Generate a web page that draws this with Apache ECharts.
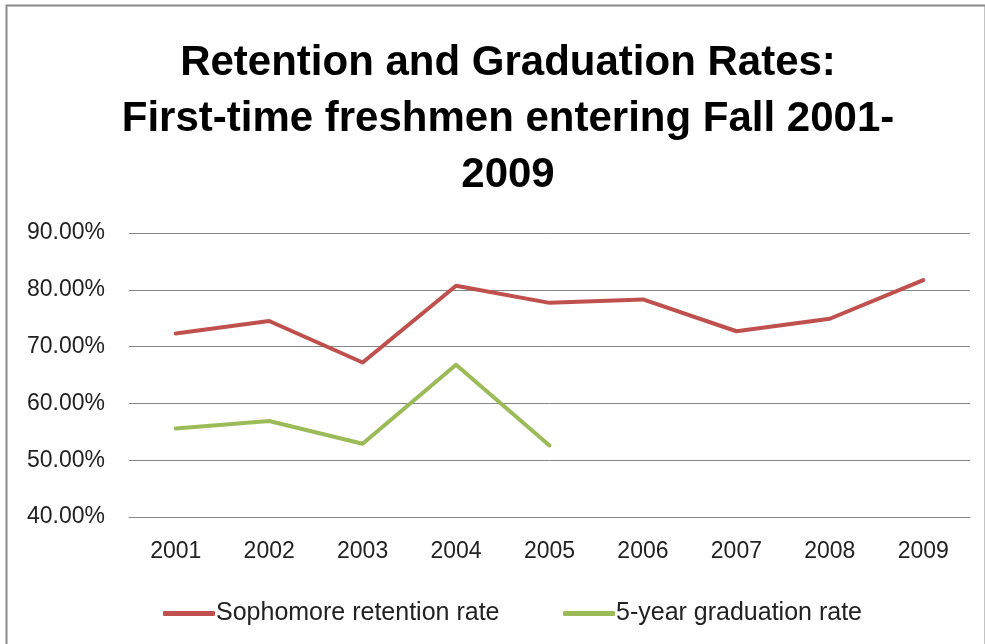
<!DOCTYPE html>
<html>
<head>
<meta charset="utf-8">
<script src="https://cdn.jsdelivr.net/npm/echarts@6/dist/echarts.min.js"></script>
<style>
html,body{margin:0;padding:0;background:#fff;}
#chart{width:985px;height:644px;}
</style>
</head>
<body>
<div id="chart"></div>
<script>
const titleText = "Retention and Graduation Rates:\nFirst-time freshmen entering Fall 2001-\n2009";
const years = ["2001","2002","2003","2004","2005","2006","2007","2008","2009"];
const retentionName = "Sophomore retention rate";
const retention = [72.3, 74.5, 67.2, 80.7, 77.7, 78.3, 72.7, 74.9, 81.7];
const graduationName = "5-year graduation rate";
const graduation = [55.6, 56.9, 52.9, 66.8, 52.6, null, null, null, null];
const yMin = 40, yMax = 90, yStep = 10;

const FONT = "'Liberation Sans', Arial, sans-serif";
const chart = echarts.init(document.getElementById('chart'), null, {renderer:'canvas'});
chart.setOption({
  animation: false,
  backgroundColor: '#ffffff',
  graphic: [{
    type: 'rect', left: 4, top: 3, z: 100, silent: true,
    shape: {width: 979, height: 660},
    style: {fill: 'none', stroke: '#8a8a8a', lineWidth: 2}
  }],
  title: {
    text: titleText,
    left: 503,
    top: 30,
    textAlign: 'center',
    textStyle: {fontFamily: FONT, fontWeight: 'bold', fontSize: 42, lineHeight: 56, color: '#000'}
  },
  grid: {left: 129, right: 15, top: 233, bottom: 127, containLabel: false},
  legend: [{
    data: [retentionName], left: 158, top: 596,
    icon: 'roundRect', itemWidth: 52, itemHeight: 5,
    textStyle: {fontFamily: FONT, fontSize: 25, color: '#222', padding: [0,0,0,-4]}
  },{
    data: [graduationName], left: 558, top: 596,
    icon: 'roundRect', itemWidth: 52, itemHeight: 5,
    textStyle: {fontFamily: FONT, fontSize: 25, color: '#222', padding: [0,0,0,-4]}
  }],
  xAxis: {
    type: 'category', data: years, boundaryGap: true,
    axisLine: {show: true, lineStyle: {color: '#868686', width: 1}},
    axisTick: {show: false},
    axisLabel: {fontFamily: FONT, fontSize: 23, color: '#222', margin: 23}
  },
  yAxis: {
    type: 'value', min: yMin, max: yMax, interval: yStep,
    axisLine: {show: false}, axisTick: {show: false},
    splitLine: {lineStyle: {color: '#868686', width: 1}},
    axisLabel: {fontFamily: FONT, fontSize: 23, color: '#222', margin: 24,
      formatter: v => v.toFixed(2) + '%'}
  },
  series: [{
    name: retentionName, type: 'line', data: retention,
    symbol: 'none', color: '#C0504D',
    lineStyle: {width: 4, color: '#C0504D', cap: 'round', join: 'round'}
  },{
    name: graduationName, type: 'line', data: graduation,
    symbol: 'none', color: '#9BBB59', connectNulls: false,
    lineStyle: {width: 4, color: '#9BBB59', cap: 'round', join: 'round'}
  }]
});
</script>
</body>
</html>
